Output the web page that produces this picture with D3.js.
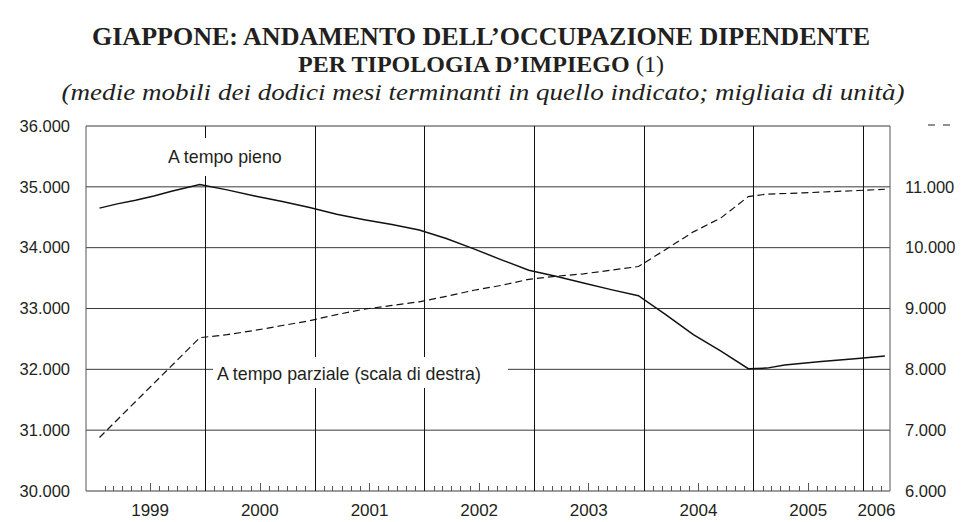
<!DOCTYPE html>
<html>
<head>
<meta charset="utf-8">
<script src="https://cdn.jsdelivr.net/npm/d3@7"></script>
<style>
  body { margin: 0; background: #fff; }
  svg { display: block; }
</style>
</head>
<body>
<svg id="chart" width="962" height="522"></svg>
<script>
// monthly readings (12-month moving averages), thousands of employees
const fullTimeMonths = ["1999-01","1999-03","1999-05","1999-07","1999-09","1999-12",
  "2000-03","2000-06","2000-09","2000-12","2001-03","2001-06","2001-09","2001-12",
  "2002-03","2002-06","2002-09","2002-12","2003-03","2003-06","2003-09","2003-12",
  "2004-03","2004-06","2004-09","2004-12","2005-02","2005-04","2005-08","2005-12","2006-03"];
const fullTimeValues = [34650,34720,34780,34850,34930,35040,
  34950,34850,34760,34660,34550,34460,34380,34290,
  34150,33980,33800,33630,33530,33420,33310,33210,
  32900,32570,32300,32010,32020,32070,32130,32180,32220];

const partTimeMonths = ["1999-01","1999-12",
  "2000-03","2000-06","2000-09","2000-12","2001-03","2001-06","2001-09","2001-12",
  "2002-03","2002-06","2002-09","2002-12","2003-03","2003-06","2003-09","2003-12",
  "2004-03","2004-06","2004-09","2004-12","2005-02","2005-06","2005-09","2005-12","2006-03"];
const partTimeValues = [6880,8520,
  8570,8640,8720,8800,8900,8990,9050,9110,
  9200,9300,9380,9480,9530,9570,9630,9690,
  9970,10260,10490,10840,10880,10900,10920,10940,10960];

const leftTicks = [30000,31000,32000,33000,34000,35000,36000];
const rightTicks = [6000,7000,8000,9000,10000,11000];
const yearLabels = [1999,2000,2001,2002,2003,2004,2005,2006];

const title1 = "GIAPPONE: ANDAMENTO DELL\u2019OCCUPAZIONE DIPENDENTE";
const title2 = "PER TIPOLOGIA D\u2019IMPIEGO";
const subtitle = "(medie mobili dei dodici mesi terminanti in quello indicato; migliaia di unit\u00e0)";

const svg = d3.select("#chart");
const serif = "'Liberation Serif','Times New Roman',serif";
const sans = "'Liberation Sans',Arial,sans-serif";

const plot = {left: 86, right: 890, top: 126, bottom: 491};

const parseMonth = d3.timeParse("%Y-%m");
const mid = s => d3.timeDay.offset(parseMonth(s), 14);

const x = d3.scaleTime()
    .domain([new Date(1998, 11, 1), new Date(2006, 3, 1)])
    .range([plot.left, plot.right]);
const yL = d3.scaleLinear().domain([30000, 36000]).range([plot.bottom, plot.top]);
const yR = d3.scaleLinear().domain([6000, 12000]).range([plot.bottom, plot.top]);

const it = d3.formatLocale({decimal: ",", thousands: ".", grouping: [3], currency: ["", "€"]});
const fmt = it.format(",.0f");

// titles (condensed serif in the original, so squeeze to its widths)
svg.append("text").attr("x", 481).attr("y", 45).attr("text-anchor", "middle")
    .attr("font-family", serif).attr("font-weight", "bold").attr("font-size", 25)
    .attr("textLength", 778).attr("lengthAdjust", "spacingAndGlyphs")
    .attr("fill", "#231f20").text(title1);
svg.append("text").attr("x", 298).attr("y", 72)
    .attr("font-family", serif).attr("font-weight", "bold").attr("font-size", 24)
    .attr("fill", "#231f20").text(title2);
svg.append("text").attr("x", 636).attr("y", 72)
    .attr("font-family", serif).attr("font-size", 24)
    .attr("fill", "#231f20").text("(1)");
svg.append("text").attr("x", 483).attr("y", 100).attr("text-anchor", "middle")
    .attr("font-family", serif).attr("font-style", "italic").attr("font-size", 24)
    .attr("textLength", 843).attr("lengthAdjust", "spacingAndGlyphs")
    .attr("fill", "#231f20").text(subtitle);

// horizontal grid
svg.append("g").selectAll("line").data(leftTicks).join("line")
    .attr("x1", plot.left).attr("x2", plot.right)
    .attr("y1", d => yL(d)).attr("y2", d => yL(d))
    .attr("stroke", "#3a3a3a").attr("stroke-width", 1);

// year lines
const years = d3.timeYear.range(new Date(2000, 0, 1), new Date(2006, 1, 1));
svg.append("g").selectAll("line").data(years).join("line")
    .attr("x1", d => Math.round(x(d)) + 0.5).attr("x2", d => Math.round(x(d)) + 0.5)
    .attr("y1", plot.top).attr("y2", plot.bottom)
    .attr("stroke", "#111").attr("stroke-width", 1);

// frame sides
svg.append("g").selectAll("line").data([plot.left, plot.right]).join("line")
    .attr("x1", d => d).attr("x2", d => d)
    .attr("y1", plot.top).attr("y2", plot.bottom)
    .attr("stroke", "#555");

// month ticks on the baseline
const months = d3.timeMonth.range(new Date(1999, 0, 1), new Date(2006, 3, 1))
    .filter(d => d.getMonth() !== 0);
svg.append("g").selectAll("line").data(months).join("line")
    .attr("x1", d => Math.round(x(d)) + 0.5).attr("x2", d => Math.round(x(d)) + 0.5)
    .attr("y1", plot.bottom).attr("y2", d => plot.bottom - (d.getMonth() === 6 ? 8 : 5))
    .attr("stroke", "#555");

// white boxes behind the series labels
svg.append("rect").attr("x", 163).attr("y", 138).attr("width", 127).attr("height", 38).attr("fill", "#fff");
svg.append("rect").attr("x", 213).attr("y", 357).attr("width", 295).attr("height", 31).attr("fill", "#fff");

// series
const full = fullTimeMonths.map((m, i) => ({date: mid(m), value: fullTimeValues[i]}));
const part = partTimeMonths.map((m, i) => ({date: mid(m), value: partTimeValues[i]}));

svg.append("path").datum(full)
    .attr("fill", "none").attr("stroke", "#111").attr("stroke-width", 1.5)
    .attr("d", d3.line().x(d => x(d.date)).y(d => yL(d.value)));

svg.append("path").datum(part)
    .attr("fill", "none").attr("stroke", "#111").attr("stroke-width", 1.2)
    .attr("stroke-dasharray", "7,4")
    .attr("d", d3.line().x(d => x(d.date)).y(d => yR(d.value)));

// axis labels
svg.append("g").selectAll("text").data(leftTicks).join("text")
    .attr("x", 70).attr("y", d => yL(d)).attr("dy", "0.35em").attr("text-anchor", "end")
    .attr("font-family", sans).attr("font-size", 16.5).attr("fill", "#231f20")
    .text(fmt);
svg.append("g").selectAll("text").data(rightTicks).join("text")
    .attr("x", 905).attr("y", d => yR(d)).attr("dy", "0.35em")
    .attr("font-family", sans).attr("font-size", 16.5).attr("fill", "#231f20")
    .text(fmt);

const [d0, d1] = x.domain();
svg.append("g").selectAll("text").data(yearLabels).join("text")
    .attr("x", d => {
      const a = d3.max([new Date(d, 0, 1), d0]), b = d3.min([new Date(d + 1, 0, 1), d1]);
      return (x(a) + x(b)) / 2;
    })
    .attr("y", 516).attr("text-anchor", "middle")
    .attr("font-family", sans).attr("font-size", 17).attr("fill", "#231f20")
    .text(d => d);

// series labels
svg.append("text").attr("x", 168).attr("y", 163)
    .attr("font-family", sans).attr("font-size", 17.8).attr("fill", "#231f20")
    .text("A tempo pieno");
svg.append("text").attr("x", 217).attr("y", 380)
    .attr("font-family", sans).attr("font-size", 17.8).attr("fill", "#231f20")
    .text("A tempo parziale (scala di destra)");

// dash mark in the top right corner
svg.append("line").attr("x1", 928).attr("x2", 952).attr("y1", 125).attr("y2", 125)
    .attr("stroke", "#222").attr("stroke-dasharray", "7,8");
</script>
</body>
</html>
